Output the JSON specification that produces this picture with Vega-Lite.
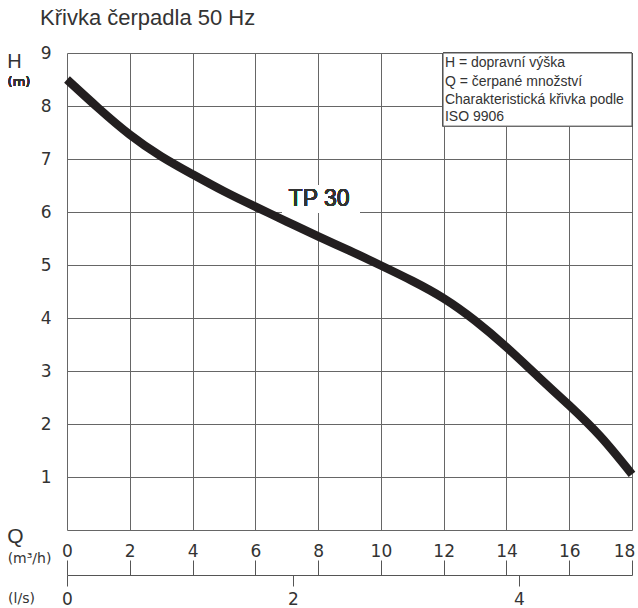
{
  "$schema": "https://vega.github.io/schema/vega-lite/v6.json",
  "width": 565,
  "height": 477,
  "autosize": "none",
  "padding": {"left": 67, "top": 53, "right": 6, "bottom": 78},
  "background": "white",
  "title": {"text": "Křivka čerpadla 50 Hz", "anchor": "start", "frame": "group", "dx": -27, "offset": 14, "font": "Liberation Sans", "fontSize": 22, "fontWeight": "normal", "color": "#333"},
  "config": {"view": {"stroke": null}},
  "datasets": {
    "curve": [
      {"Q": 0, "H": 8.5}, {"Q": 1, "H": 7.96}, {"Q": 2, "H": 7.46}, {"Q": 3, "H": 7.05},
      {"Q": 4, "H": 6.71}, {"Q": 5, "H": 6.39}, {"Q": 6, "H": 6.1}, {"Q": 7, "H": 5.82},
      {"Q": 8, "H": 5.54}, {"Q": 9, "H": 5.27}, {"Q": 10, "H": 4.99}, {"Q": 11, "H": 4.7},
      {"Q": 12, "H": 4.37}, {"Q": 13, "H": 3.95}, {"Q": 14, "H": 3.45}, {"Q": 15, "H": 2.9},
      {"Q": 16, "H": 2.35}, {"Q": 17, "H": 1.76}, {"Q": 18, "H": 1.05}
    ],
    "legend": [
      {"Q": 12.04, "H": 8.81, "label": "H = dopravní výška"},
      {"Q": 12.04, "H": 8.45, "label": "Q = čerpané množství"},
      {"Q": 12.04, "H": 8.11, "label": "Charakteristická křivka podle"},
      {"Q": 12.04, "H": 7.79, "label": "ISO 9906"}
    ],
    "ls": [{"ls": 0}, {"ls": 2}, {"ls": 4}]
  },
  "layer": [
    {
      "data": {"name": "curve"},
      "layer": [
        {
          "mark": {"type": "rect", "fill": "white"},
          "encoding": {
            "x": {"datum": 6.85, "type": "quantitative", "scale": {"domain": [0, 18], "nice": false, "zero": false}},
            "x2": {"datum": 9.33},
            "y": {"datum": 6.51, "type": "quantitative", "scale": {"domain": [0, 9], "nice": false}},
            "y2": {"datum": 5.98}
          }
        },
        {
          "mark": {"type": "rect", "fill": "white", "stroke": "#555", "strokeWidth": 1},
          "encoding": {
            "x": {"datum": 11.98, "type": "quantitative"},
            "x2": {"datum": 18},
            "y": {"datum": 9, "type": "quantitative"},
            "y2": {"datum": 7.62}
          }
        },
        {
          "mark": {"type": "line", "color": "#231f20", "strokeWidth": 8.5, "strokeCap": "butt", "interpolate": "natural"},
          "encoding": {
            "x": {
              "field": "Q", "type": "quantitative",
              "scale": {"domain": [0, 18], "nice": false, "zero": false},
              "axis": {
                "orient": "bottom", "values": [0, 2, 4, 6, 8, 10, 12, 14, 16, 18],
                "grid": true, "gridColor": "#666", "gridWidth": 1, "gridOpacity": 1,
                "ticks": false, "domain": false, "labelFlush": false,
                "labelFont": "DejaVu Sans", "labelFontSize": 17, "labelColor": "#333", "labelPadding": 13,
                "labelOffset": {"condition": {"test": "datum.value == 18", "value": -8}, "value": 0},
                "title": "Q", "titleFont": "Liberation Sans", "titleFontSize": 21, "titleFontWeight": "normal", "titleColor": "#333",
                "titleAngle": 0, "titleAlign": "center", "titleBaseline": "middle", "titleX": -52, "titleY": 6
              }
            },
            "y": {
              "field": "H", "type": "quantitative",
              "scale": {"domain": [0, 9], "nice": false},
              "axis": {
                "values": [0, 1, 2, 3, 4, 5, 6, 7, 8, 9],
                "labelExpr": "datum.value == 0 ? '' : datum.label",
                "grid": true, "gridColor": "#666", "gridWidth": 1, "gridOpacity": 1,
                "ticks": false, "domain": false, "labelFlush": false,
                "labelFont": "DejaVu Sans", "labelFontSize": 17, "labelColor": "#333", "labelPadding": 16,
                "title": "H", "titleFont": "Liberation Sans", "titleFontSize": 20, "titleFontWeight": "normal", "titleColor": "#333",
                "titleAngle": 0, "titleAlign": "center", "titleBaseline": "middle", "titleX": -53, "titleY": 8
              }
            }
          }
        },
        {
          "mark": {"type": "text", "text": "TP 30", "font": "Liberation Sans", "fontSize": 23, "fontWeight": "normal", "color": "#333", "align": "center", "baseline": "middle"},
          "encoding": {
            "x": {"datum": 8.03, "type": "quantitative"},
            "y": {"datum": 6.25, "type": "quantitative"}
          }
        },
        {
          "data": {"name": "legend"},
          "mark": {"type": "text", "font": "Liberation Sans", "fontSize": 14, "fontWeight": "normal", "color": "#333", "align": "left", "baseline": "middle"},
          "encoding": {
            "x": {"field": "Q", "type": "quantitative"},
            "y": {"field": "H", "type": "quantitative"},
            "text": {"field": "label"}
          }
        },
        {
          "mark": {"type": "text", "text": "(m)", "font": "DejaVu Sans", "fontSize": 13, "fontWeight": "normal", "color": "#333", "align": "center", "baseline": "middle"},
          "encoding": {
            "x": {"datum": -1.53, "type": "quantitative"},
            "y": {"datum": 8.45, "type": "quantitative"}
          }
        }
      ]
    },
    {
      "data": {"name": "curve"},
      "mark": {"type": "point", "opacity": 0},
      "encoding": {
        "x": {
          "field": "Q", "type": "quantitative",
          "scale": {"domain": [0, 18], "nice": false, "zero": false},
          "axis": {
            "orient": "bottom", "offset": 45, "values": [0, 2, 4, 6, 8, 10, 12, 14, 16, 18],
            "grid": false, "labels": false, "domain": true, "domainColor": "#555", "domainWidth": 1,
            "ticks": true, "tickSize": -15, "tickColor": "#555", "tickWidth": 1,
            "title": "(m³/h)", "titleFont": "DejaVu Sans", "titleFontSize": 14, "titleFontWeight": "normal", "titleColor": "#333",
            "titleAngle": 0, "titleAlign": "center", "titleBaseline": "middle", "titleX": -38, "titleY": -17
          }
        }
      }
    },
    {
      "data": {"name": "ls"},
      "mark": {"type": "point", "opacity": 0},
      "encoding": {
        "x": {
          "field": "ls", "type": "quantitative",
          "scale": {"domain": [0, 5], "nice": false, "zero": false},
          "axis": {
            "orient": "bottom", "offset": 45, "values": [0, 2, 4],
            "grid": false, "domain": false, "labelFlush": false,
            "ticks": true, "tickSize": 11, "tickColor": "#555", "tickWidth": 1,
            "labelFont": "DejaVu Sans", "labelFontSize": 17, "labelColor": "#333", "labelPadding": 5,
            "title": "(l/s)", "titleFont": "DejaVu Sans", "titleFontSize": 14, "titleFontWeight": "normal", "titleColor": "#333",
            "titleAngle": 0, "titleAlign": "center", "titleBaseline": "middle", "titleX": -46, "titleY": 23
          }
        }
      }
    }
  ],
  "resolve": {"scale": {"x": "independent"}, "axis": {"x": "independent"}}
}
